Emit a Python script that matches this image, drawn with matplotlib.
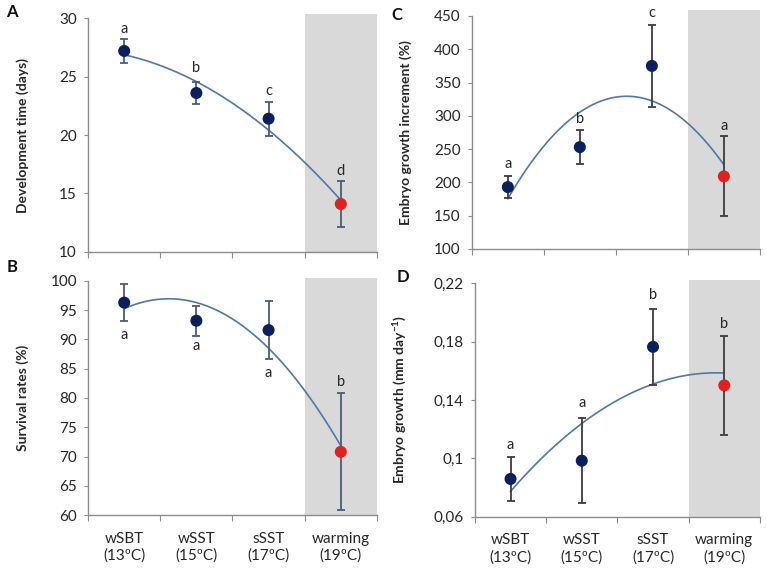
import numpy as np
import matplotlib
matplotlib.use("Agg")
import matplotlib.pyplot as plt

plt.rcParams['font.family'] = ['Lato', 'DejaVu Sans']

categories = ["wSBT\n(13ºC)", "wSST\n(15ºC)", "sSST\n(17ºC)", "warming\n(19ºC)"]

# A: development time (days)
dev_mean = [27.2, 23.6, 21.4, 14.1]
dev_err = [1.0, 0.95, 1.45, 2.0]
dev_letters = ["a", "b", "c", "d"]
dev_letter_y = [29.1, 25.7, 23.8, 16.9]

# B: survival rates (%)
surv_mean = [96.3, 93.2, 91.6, 70.8]
surv_err = [3.1, 2.6, 4.9, 10.0]
surv_letters = ["a", "a", "a", "b"]
surv_letter_y = [90.8, 88.8, 84.3, 82.8]

# C: embryo growth increment (%)
incr_mean = [193, 253, 375, 209]
incr_err = [17, 26, 62, 60]
incr_letters = ["a", "b", "c", "a"]
incr_letter_y = [228, 295, 454, 285]

# D: embryo growth (mm day-1)
grow_mean = [0.0859, 0.0984, 0.1764, 0.150]
grow_err = [0.0151, 0.029, 0.0258, 0.0338]
grow_letters = ["a", "a", "b", "b"]
grow_letter_y = [0.1089, 0.1382, 0.2116, 0.1923]

navy = "#0b1f5e"
red = "#e3201f"
trend_col = "#4f78a8"
shade = "#d9d9d9"
spine_col = "#8c8c8c"
txt = "#262626"

fig = plt.figure(figsize=(7.66, 5.71), dpi=100)


def panel(rect, mean, err, letters, letter_y, ylim, yticks, yticklabels,
          ylabel, errcol, label_x, shade_top, show_x):
    ax = fig.add_axes(rect)
    x = np.arange(len(mean))
    ax.axvspan(2.5, 3.5, ymin=0, ymax=shade_top, color=shade, lw=0,
               zorder=0, clip_on=False)
    # second order polynomial trendline
    coef = np.polyfit(x, mean, 2)
    xs = np.linspace(0, 3, 200)
    ax.plot(xs, np.polyval(coef, xs), color=trend_col, lw=1.2, zorder=2)
    ax.errorbar(x, mean, yerr=err, fmt="none", ecolor=errcol, elinewidth=1.3,
                capsize=3, capthick=1.3, zorder=3)
    colors = [navy, navy, navy, red]
    ax.scatter(x, mean, s=75, c=colors, zorder=4, linewidths=0)
    for xi, lab, ly in zip(x, letters, letter_y):
        ax.text(xi, ly, lab, ha="center", va="center", fontsize=10.5,
                color=txt)
    ax.set_xlim(-0.5, 3.5)
    ax.set_ylim(*ylim)
    ax.set_xticks([-0.5, 0.5, 1.5, 2.5, 3.5])
    ax.set_xticklabels([])
    ax.set_xticks(x, minor=True)
    if show_x:
        ax.set_xticklabels(categories, minor=True, linespacing=1.25)
    ax.tick_params(axis="x", which="minor", length=0, labelsize=11,
                   labelcolor=txt, pad=12)
    ax.tick_params(axis="x", which="major", length=4, color=spine_col)
    ax.set_yticks(yticks)
    ax.set_yticklabels(yticklabels)
    ax.tick_params(axis="y", length=3, color=spine_col, labelsize=11,
                   labelcolor=txt, pad=5)
    for s in ["top", "right"]:
        ax.spines[s].set_visible(False)
    for s in ["left", "bottom"]:
        ax.spines[s].set_color(spine_col)
        ax.spines[s].set_linewidth(1.0)
    ax.set_ylabel(ylabel, fontsize=10, fontweight="bold", color=txt)
    ax.yaxis.set_label_coords(label_x, 0.5)
    return ax


panel([0.115, 0.559, 0.377, 0.409], dev_mean, dev_err, dev_letters,
      dev_letter_y, (10, 30), [10, 15, 20, 25, 30],
      ["10", "15", "20", "25", "30"], "Development time (days)",
      "#4d5a7c", -0.205, 1.017, False)

panel([0.115, 0.098, 0.377, 0.410], surv_mean, surv_err, surv_letters,
      surv_letter_y, (60, 100), list(range(60, 101, 5)),
      [str(v) for v in range(60, 101, 5)], "Survival rates (%)",
      "#4d5a7c", -0.205, 1.013, True)

panel([0.616, 0.564, 0.376, 0.408], incr_mean, incr_err, incr_letters,
      incr_letter_y, (100, 450), list(range(100, 451, 50)),
      [str(v) for v in range(100, 451, 50)], "Embryo growth increment (%)",
      "#3c3c3c", -0.208, 1.026, False)

panel([0.620, 0.095, 0.372, 0.409], grow_mean, grow_err, grow_letters,
      grow_letter_y, (0.06, 0.22), [0.06, 0.10, 0.14, 0.18, 0.22],
      ["0,06", "0,1", "0,14", "0,18", "0,22"],
      "Embryo growth (mm day$^{\\mathregular{-1}}$)",
      "#3c3c3c", -0.235, 1.013, True)

for lab, px, py in [("A", 0.008, 0.979), ("B", 0.008, 0.532),
                    ("C", 0.511, 0.974), ("D", 0.518, 0.515)]:
    fig.text(px, py, lab, fontsize=12, fontweight="bold", color="#111111",
             ha="left", va="center")

fig.savefig("out.png", dpi=100)
